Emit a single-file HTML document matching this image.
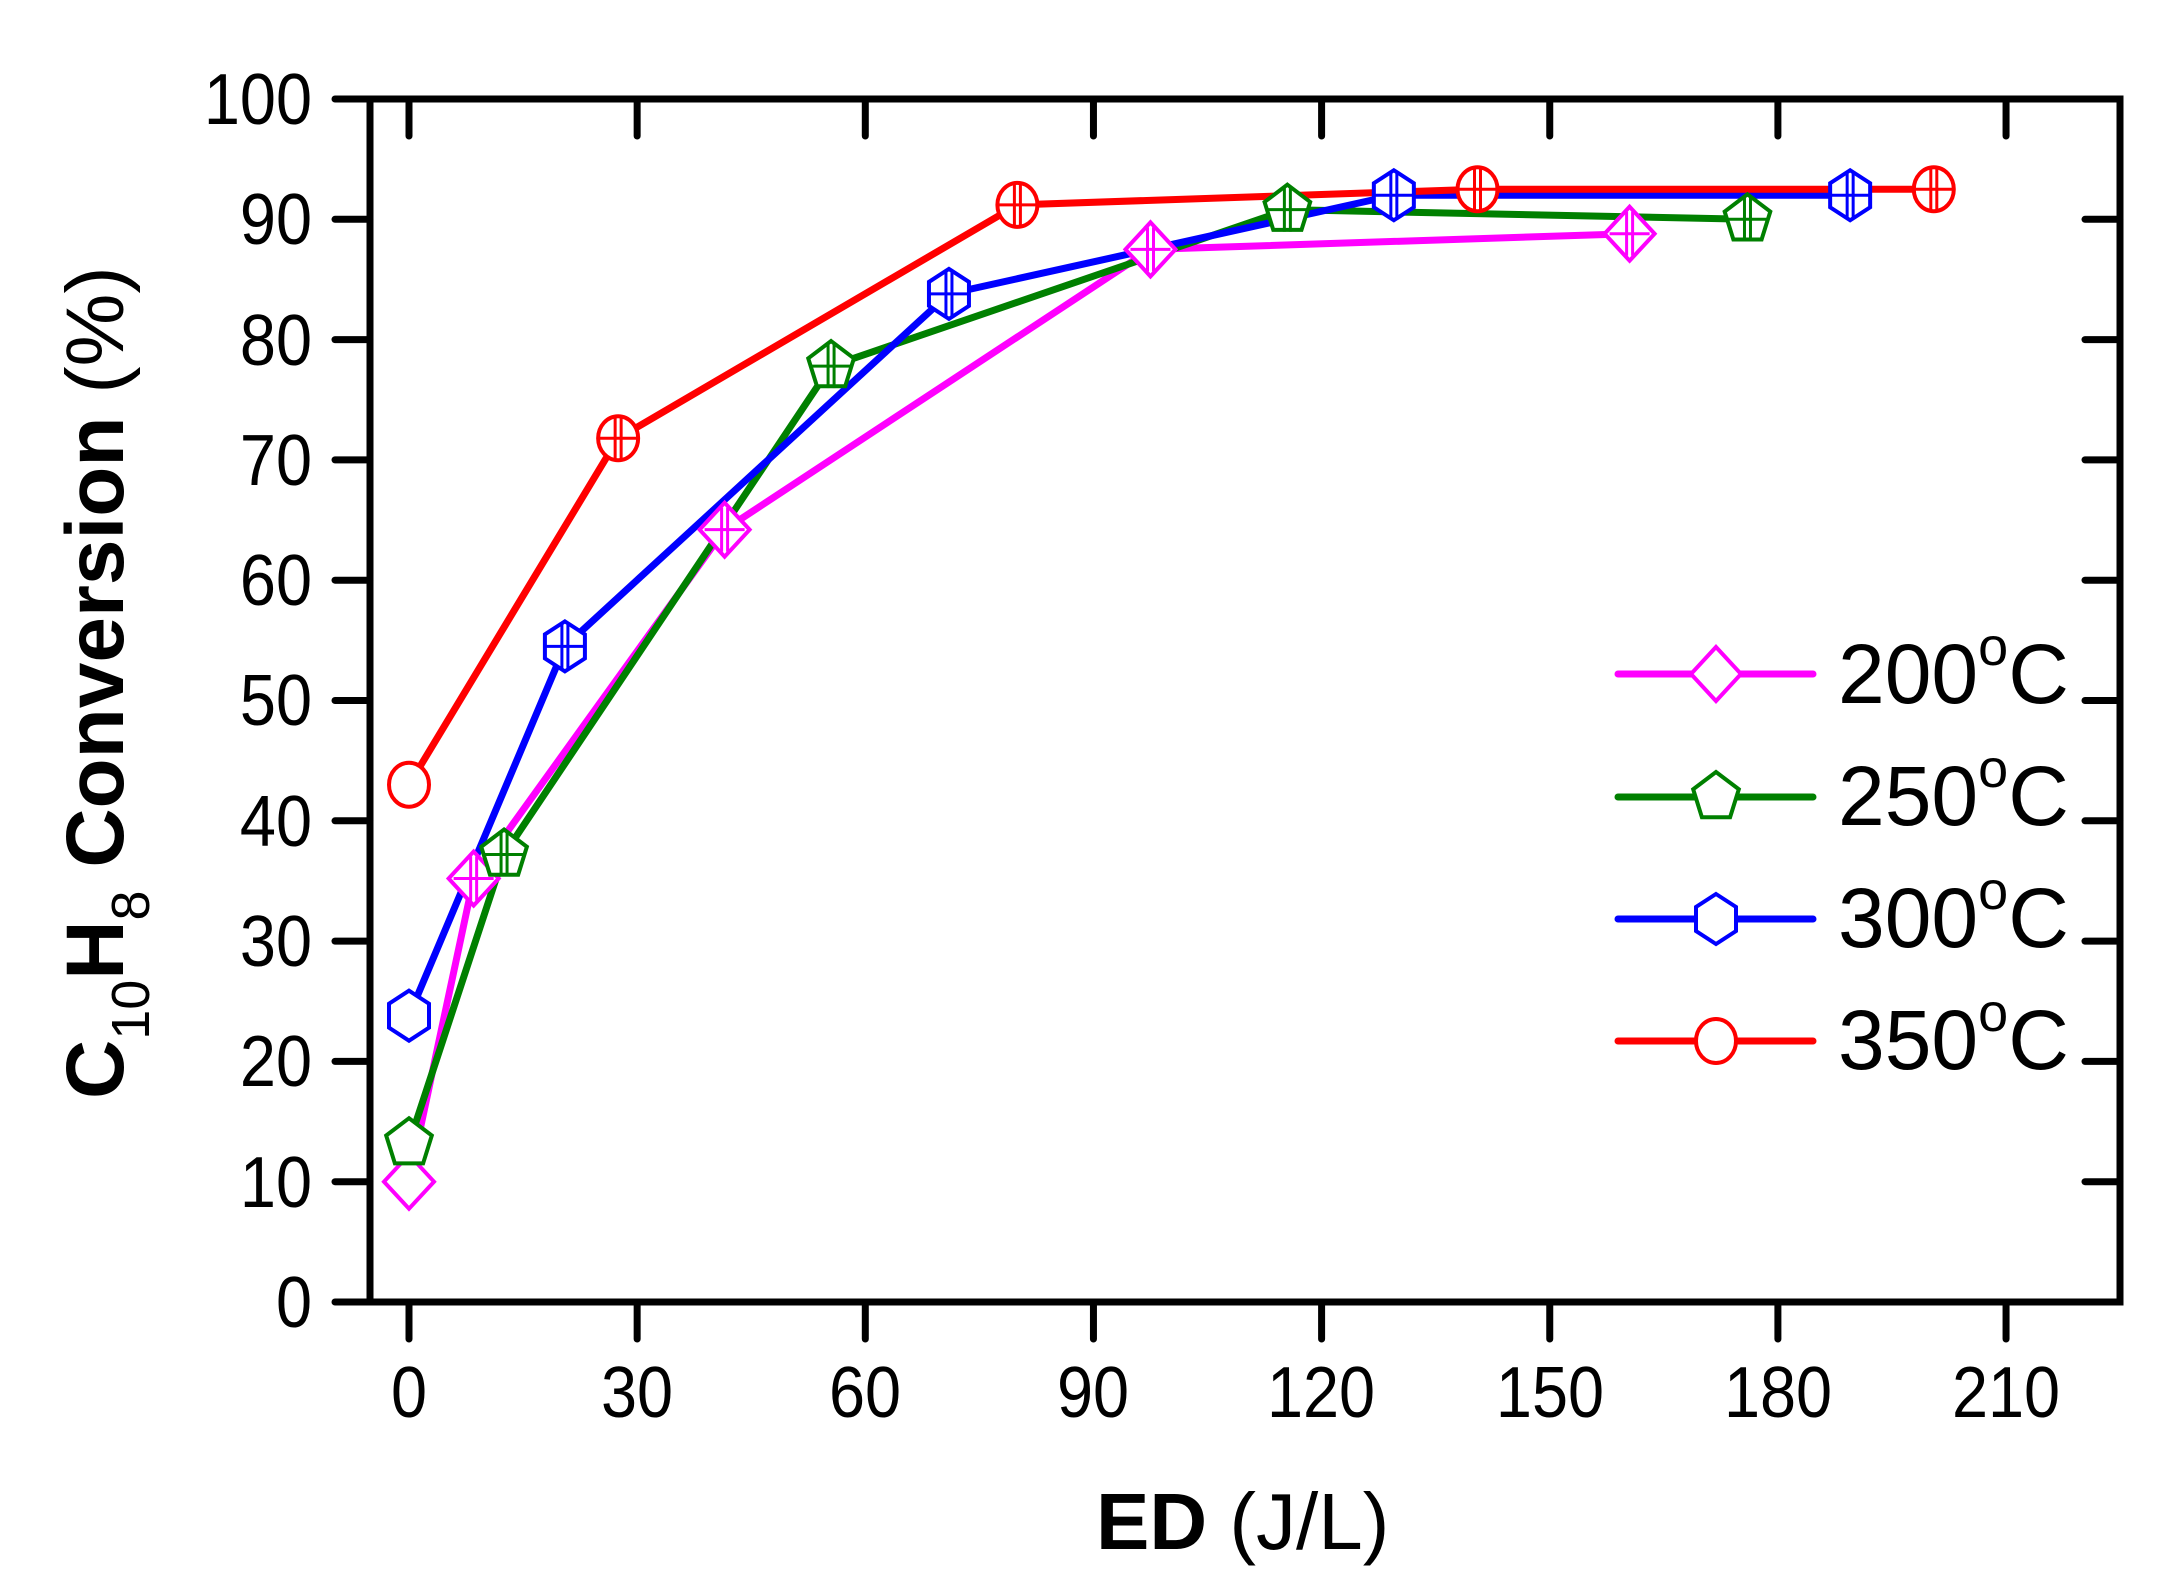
<!DOCTYPE html>
<html><head><meta charset="utf-8"><style>html,body{margin:0;padding:0;background:#fff}svg{display:block}</style></head>
<body>
<svg id="s" width="2178" height="1596" viewBox="0 0 2178 1596" xmlns="http://www.w3.org/2000/svg" font-family="Liberation Sans, Arial, sans-serif">
<rect width="2178" height="1596" fill="#fff"/>
<g id="plot"></g>
<rect x="370" y="99" width="1750" height="1203" fill="none" stroke="#000" stroke-width="7"/>
<g id="ticks" stroke="#000" stroke-width="7" stroke-linecap="round"></g>
<g font-size="72" text-anchor="end" fill="#000" transform="translate(312,0) scale(0.9,1) translate(-312,0)">
<text x="312" y="1327">0</text><text x="312" y="1207">10</text><text x="312" y="1086">20</text><text x="312" y="966">30</text><text x="312" y="846">40</text><text x="312" y="725">50</text><text x="312" y="605">60</text><text x="312" y="485">70</text><text x="312" y="365">80</text><text x="312" y="244">90</text><text x="312" y="124">100</text>
</g>
<g font-size="72" text-anchor="middle" fill="#000">
<text x="409" y="1417" transform="translate(409,0) scale(0.9,1) translate(-409,0)">0</text>
<text x="637" y="1417" transform="translate(637,0) scale(0.9,1) translate(-637,0)">30</text>
<text x="865" y="1417" transform="translate(865,0) scale(0.9,1) translate(-865,0)">60</text>
<text x="1093" y="1417" transform="translate(1093,0) scale(0.9,1) translate(-1093,0)">90</text>
<text x="1321" y="1417" transform="translate(1321,0) scale(0.9,1) translate(-1321,0)">120</text>
<text x="1550" y="1417" transform="translate(1550,0) scale(0.9,1) translate(-1550,0)">150</text>
<text x="1778" y="1417" transform="translate(1778,0) scale(0.9,1) translate(-1778,0)">180</text>
<text x="2006" y="1417" transform="translate(2006,0) scale(0.9,1) translate(-2006,0)">210</text>
</g>
<text x="1096" y="1549" font-size="80" fill="#000"><tspan font-weight="bold">ED</tspan> (J/L)</text>
<text transform="translate(123,1099) rotate(-90)" font-size="82" fill="#000"><tspan font-weight="bold">C</tspan><tspan font-size="54" dy="26">10</tspan><tspan font-weight="bold" dy="-26">H</tspan><tspan font-size="54" dy="26">8</tspan><tspan font-weight="bold" dy="-26"> Conversion</tspan> (%)</text>
<g id="leg"></g>
<g font-size="84" fill="#000">
<text x="1838" y="703">200<tspan font-size="54" dy="-38">o</tspan><tspan dy="38">C</tspan></text>
<text x="1838" y="825">250<tspan font-size="54" dy="-38">o</tspan><tspan dy="38">C</tspan></text>
<text x="1838" y="947">300<tspan font-size="54" dy="-38">o</tspan><tspan dy="38">C</tspan></text>
<text x="1838" y="1069">350<tspan font-size="54" dy="-38">o</tspan><tspan dy="38">C</tspan></text>
</g>
</svg>
<script>
var NS="http://www.w3.org/2000/svg";
function el(p,t,a){var e=document.createElementNS(NS,t);for(var k in a)e.setAttribute(k,a[k]);p.appendChild(e);return e;}
var X=function(v){return 409+v*7.605}, Y=function(v){return 1302-v*12.03};
var tk=document.getElementById('ticks');
for(var i=0;i<=10;i++){var y=Y(i*10);el(tk,'line',{x1:335,y1:y,x2:370,y2:y});el(tk,'line',{x1:2085,y1:y,x2:2120,y2:y});}
for(var i=0;i<=7;i++){var x=X(i*30);el(tk,'line',{x1:x,y1:1302,x2:x,y2:1339});el(tk,'line',{x1:x,y1:99,x2:x,y2:136});}
var S=[
 {c:'#ff00ff',m:'d',d:[[0,10],[8.5,35.2],[41.5,64.2],[97.5,87.5],[160.5,88.8]],ly:674},
 {c:'#008000',m:'p',d:[[0,13.2],[12.5,37.2],[55.5,77.8],[115.5,90.8],[176,90]],ly:797},
 {c:'#0000ff',m:'h',d:[[0,23.8],[20.5,54.5],[71,83.8],[129.5,92],[189.5,92]],ly:919},
 {c:'#ff0000',m:'c',d:[[0,43],[27.5,71.8],[80,91.2],[140.5,92.5],[200.5,92.5]],ly:1041}
];
function marker(g,m,x,y,c,cross){
 var a={fill:'#fff',stroke:c,'stroke-width':4};
 if(m=='c'){a.cx=x;a.cy=y;a.rx=20;a.ry=22;el(g,'ellipse',a);}
 else{var pts=[];
  if(m=='d')pts=[[0,-27],[25,0],[0,27],[-25,0]];
  if(m=='p')for(var k=0;k<5;k++){var t=-Math.PI/2+k*2*Math.PI/5;pts.push([24*Math.cos(t),25*Math.sin(t)]);}
  if(m=='h')pts=[[0,-25],[20,-12],[20,12],[0,25],[-20,12],[-20,-12]];
  a.points=pts.map(function(p){return (x+p[0])+','+(y+p[1]);}).join(' ');el(g,'polygon',a);}
 if(cross){el(g,'line',{x1:x-20,y1:y,x2:x+20,y2:y,stroke:c,'stroke-width':3});el(g,'line',{x1:x-3,y1:y-22,x2:x-3,y2:y+22,stroke:c,'stroke-width':3});el(g,'line',{x1:x+3,y1:y-22,x2:x+3,y2:y+22,stroke:c,'stroke-width':3});}
}
var pg=document.getElementById('plot'),lg=document.getElementById('leg');
S.forEach(function(s){el(pg,'polyline',{points:s.d.map(function(p){return X(p[0])+','+Y(p[1]);}).join(' '),fill:'none',stroke:s.c,'stroke-width':7,'stroke-linejoin':'round'});});
S.forEach(function(s){s.d.forEach(function(p,i){marker(pg,s.m,X(p[0]),Y(p[1]),s.c,i>0);});
 el(lg,'line',{x1:1618,y1:s.ly,x2:1813,y2:s.ly,stroke:s.c,'stroke-width':7,'stroke-linecap':'round'});marker(lg,s.m,1716,s.ly,s.c,false);});
</script>
</body></html>
